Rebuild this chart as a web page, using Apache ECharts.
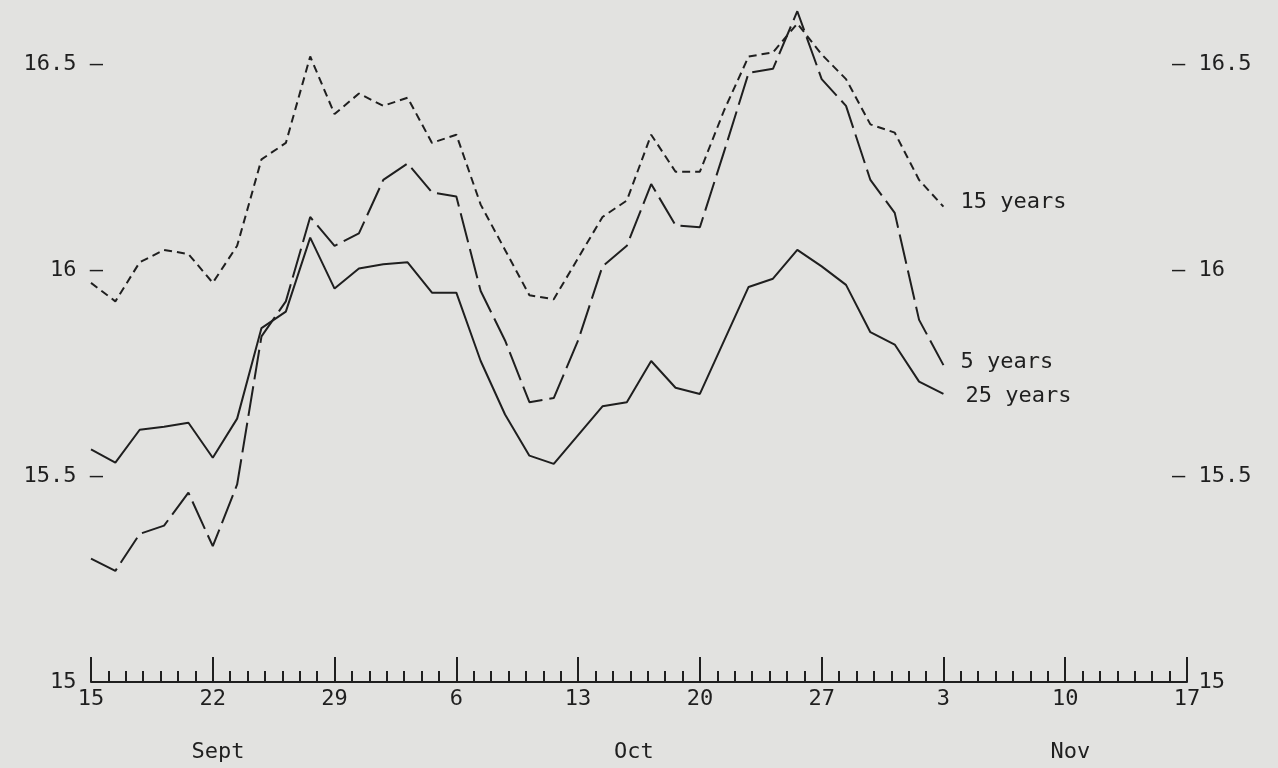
<!DOCTYPE html>
<html>
<head>
<meta charset="utf-8">
<script src="https://cdn.jsdelivr.net/npm/echarts@6/dist/echarts.min.js"></script>
<style>
html,body{margin:0;padding:0;background:#e2e2e0;}
#chart{width:1278px;height:768px;}
</style>
</head>
<body>
<div id="chart"></div>
<script>
// X-axis day tick labels (every 7 days from 15 Sept to 17 Nov)
const xTickLabels = ['15', '22', '29', '6', '13', '20', '27', '3', '10', '17'];
const monthNames = ['Sept', 'Oct', 'Nov'];
const yTickValues = [15, 15.5, 16, 16.5];
const seriesNames = ['15 years', '5 years', '25 years'];

// Daily (business-day) yields, 15 Sept - 3 Nov
const yields15 = [15.97, 15.925, 16.02, 16.05, 16.04, 15.97, 16.06, 16.27, 16.31, 16.52,
  16.38, 16.43, 16.40, 16.42, 16.31, 16.33, 16.16, 16.05, 15.94, 15.93,
  16.03, 16.13, 16.17, 16.33, 16.24, 16.24, 16.39, 16.52, 16.53, 16.60,
  16.525, 16.465, 16.355, 16.335, 16.22, 16.155];
const yields5 = [15.30, 15.27, 15.36, 15.38, 15.46, 15.33, 15.48, 15.84, 15.925, 16.13,
  16.06, 16.09, 16.22, 16.26, 16.19, 16.18, 15.95, 15.83, 15.68, 15.69,
  15.83, 16.01, 16.06, 16.21, 16.11, 16.105, 16.29, 16.48, 16.49, 16.63,
  16.465, 16.40, 16.22, 16.14, 15.88, 15.77];
const yields25 = [15.565, 15.533, 15.613, 15.62, 15.63, 15.545, 15.64, 15.86, 15.90, 16.08,
  15.956, 16.005, 16.015, 16.02, 15.946, 15.946, 15.78, 15.65, 15.55, 15.53,
  15.60, 15.67, 15.68, 15.78, 15.715, 15.70, 15.83, 15.96, 15.98, 16.05,
  16.01, 15.965, 15.85, 15.82, 15.73, 15.70];

// Five business days are spread evenly over each 7-day week on the plot
function toPoints(vals) {
  return vals.map(function (v, i) { return [i * 7 / 5, v]; });
}

const FONT = 'DejaVu Sans Mono';
const INK = '#1f1f1f';
const FS = 22;
const chart = echarts.init(document.getElementById('chart'), null, {renderer: 'canvas'});

function yAxisCfg(pos) {
  const left = pos === 'left';
  return {
    type: 'value', position: pos, min: 15, max: 16.65,
    axisLine: {show: false},
    splitLine: {show: false},
    axisTick: {show: false},
    axisLabel: {customValues: yTickValues, margin: left ? -12 : -15,
      align: left ? 'right' : 'left',
      fontFamily: FONT, fontSize: FS, color: INK,
      formatter: function (v) {
        if (v === 15) { return left ? '15  ' : '  15'; }
        return left ? (v + ' \u2013') : ('\u2013 ' + v);
      }}
  };
}

function lineSeries(name, vals, dash, offset) {
  return {
    name: name, type: 'line', data: toPoints(vals), symbol: 'none', clip: false,
    xAxisIndex: 0, yAxisIndex: 0,
    lineStyle: {color: INK, width: 2, type: dash},
    endLabel: {show: true, formatter: name, fontFamily: FONT, fontSize: FS, color: INK,
      distance: 8, offset: offset},
    emphasis: {disabled: true}
  };
}

chart.setOption({
  animation: false,
  backgroundColor: '#e2e2e0',
  grid: {left: 91, right: 91, top: 3, bottom: 86},
  xAxis: [{
    type: 'value', min: 0, max: 63, interval: 7, position: 'bottom',
    axisLine: {show: true, lineStyle: {color: INK, width: 2}},
    axisTick: {show: true, inside: true, length: 25, lineStyle: {color: INK, width: 2}},
    minorTick: {show: true, splitNumber: 7, length: 11, lineStyle: {color: INK, width: 2}},
    splitLine: {show: false}, minorSplitLine: {show: false},
    axisLabel: {margin: 6, fontFamily: FONT, fontSize: FS, color: INK,
      formatter: function (v) { return xTickLabels[Math.round(v / 7)]; }}
  }, {
    type: 'value', min: 0, max: 63, position: 'bottom',
    axisLine: {show: false}, axisTick: {show: false}, splitLine: {show: false},
    axisLabel: {customValues: [7.3, 31.2, 56.3], margin: 59, fontFamily: FONT, fontSize: FS, color: INK,
      formatter: function (v) { return monthNames[v < 20 ? 0 : (v < 45 ? 1 : 2)]; }}
  }],
  yAxis: [yAxisCfg('left'), yAxisCfg('right')],
  series: [
    lineSeries(seriesNames[0], yields15, [8, 5], [9, -4]),
    lineSeries(seriesNames[1], yields5, [30, 7], [9, -3]),
    lineSeries(seriesNames[2], yields25, 'solid', [14, 2])
  ]
});
</script>
</body>
</html>
